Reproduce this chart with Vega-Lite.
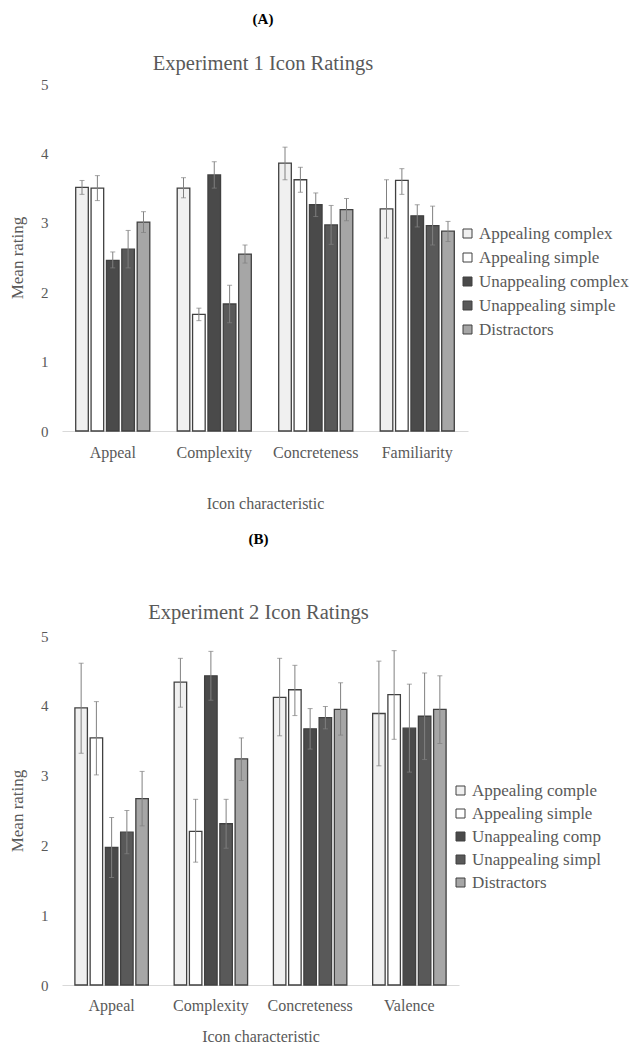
{
  "$schema": "https://vega.github.io/schema/vega-lite/v6.json",
  "padding": {"left": 8, "top": 11, "right": 0, "bottom": 0},
  "background": "white",
  "config": {
    "font": "Liberation Serif",
    "view": {"stroke": null},
    "axis": {"labelFont": "Liberation Serif", "titleFont": "Liberation Serif", "labelColor": "#595959", "titleColor": "#595959", "titleFontWeight": "normal", "grid": false, "ticks": false},
    "axisY": {"domain": false, "labelFontSize": 15, "titleFontSize": 17, "format": "d"},
    "axisX": {"domain": true, "domainColor": "#d9d9d9", "domainWidth": 1, "labelAngle": 0, "labelFontSize": 16, "titleFontSize": 16},
    "legend": {"title": null, "symbolType": "square", "symbolSize": 81, "symbolStrokeColor": "#404040", "symbolStrokeWidth": 1, "labelFontSize": 17, "labelColor": "#595959", "labelFont": "Liberation Serif", "labelOffset": 3, "labelLimit": 300}
  },
  "datasets": {
    "exp1": [
      {"characteristic": "Appeal", "group": "Appealing complex", "mean": 3.51, "lo": 3.41, "hi": 3.61},
      {"characteristic": "Appeal", "group": "Appealing simple", "mean": 3.50, "lo": 3.32, "hi": 3.68},
      {"characteristic": "Appeal", "group": "Unappealing complex", "mean": 2.46, "lo": 2.35, "hi": 2.58},
      {"characteristic": "Appeal", "group": "Unappealing simple", "mean": 2.62, "lo": 2.35, "hi": 2.89},
      {"characteristic": "Appeal", "group": "Distractors", "mean": 3.01, "lo": 2.86, "hi": 3.16},
      {"characteristic": "Complexity", "group": "Appealing complex", "mean": 3.50, "lo": 3.36, "hi": 3.65},
      {"characteristic": "Complexity", "group": "Appealing simple", "mean": 1.68, "lo": 1.59, "hi": 1.77},
      {"characteristic": "Complexity", "group": "Unappealing complex", "mean": 3.69, "lo": 3.50, "hi": 3.88},
      {"characteristic": "Complexity", "group": "Unappealing simple", "mean": 1.83, "lo": 1.56, "hi": 2.10},
      {"characteristic": "Complexity", "group": "Distractors", "mean": 2.55, "lo": 2.42, "hi": 2.68},
      {"characteristic": "Concreteness", "group": "Appealing complex", "mean": 3.86, "lo": 3.62, "hi": 4.09},
      {"characteristic": "Concreteness", "group": "Appealing simple", "mean": 3.62, "lo": 3.44, "hi": 3.80},
      {"characteristic": "Concreteness", "group": "Unappealing complex", "mean": 3.26, "lo": 3.09, "hi": 3.43},
      {"characteristic": "Concreteness", "group": "Unappealing simple", "mean": 2.97, "lo": 2.69, "hi": 3.25},
      {"characteristic": "Concreteness", "group": "Distractors", "mean": 3.19, "lo": 3.03, "hi": 3.35},
      {"characteristic": "Familiarity", "group": "Appealing complex", "mean": 3.20, "lo": 2.78, "hi": 3.62},
      {"characteristic": "Familiarity", "group": "Appealing simple", "mean": 3.61, "lo": 3.41, "hi": 3.78},
      {"characteristic": "Familiarity", "group": "Unappealing complex", "mean": 3.10, "lo": 2.94, "hi": 3.26},
      {"characteristic": "Familiarity", "group": "Unappealing simple", "mean": 2.96, "lo": 2.68, "hi": 3.24},
      {"characteristic": "Familiarity", "group": "Distractors", "mean": 2.88, "lo": 2.73, "hi": 3.02}
    ],
    "exp2": [
      {"characteristic": "Appeal", "group": "Appealing complex", "mean": 3.97, "lo": 3.32, "hi": 4.61},
      {"characteristic": "Appeal", "group": "Appealing simple", "mean": 3.54, "lo": 3.01, "hi": 4.06},
      {"characteristic": "Appeal", "group": "Unappealing complex", "mean": 1.97, "lo": 1.54, "hi": 2.40},
      {"characteristic": "Appeal", "group": "Unappealing simple", "mean": 2.19, "lo": 1.88, "hi": 2.50},
      {"characteristic": "Appeal", "group": "Distractors", "mean": 2.67, "lo": 2.28, "hi": 3.06},
      {"characteristic": "Complexity", "group": "Appealing complex", "mean": 4.34, "lo": 3.98, "hi": 4.68},
      {"characteristic": "Complexity", "group": "Appealing simple", "mean": 2.20, "lo": 1.76, "hi": 2.66},
      {"characteristic": "Complexity", "group": "Unappealing complex", "mean": 4.43, "lo": 4.08, "hi": 4.78},
      {"characteristic": "Complexity", "group": "Unappealing simple", "mean": 2.31, "lo": 1.96, "hi": 2.66},
      {"characteristic": "Complexity", "group": "Distractors", "mean": 3.24, "lo": 2.93, "hi": 3.54},
      {"characteristic": "Concreteness", "group": "Appealing complex", "mean": 4.12, "lo": 3.57, "hi": 4.68},
      {"characteristic": "Concreteness", "group": "Appealing simple", "mean": 4.23, "lo": 3.86, "hi": 4.58},
      {"characteristic": "Concreteness", "group": "Unappealing complex", "mean": 3.67, "lo": 3.38, "hi": 3.96},
      {"characteristic": "Concreteness", "group": "Unappealing simple", "mean": 3.83, "lo": 3.67, "hi": 3.99},
      {"characteristic": "Concreteness", "group": "Distractors", "mean": 3.95, "lo": 3.58, "hi": 4.33},
      {"characteristic": "Valence", "group": "Appealing complex", "mean": 3.89, "lo": 3.14, "hi": 4.64},
      {"characteristic": "Valence", "group": "Appealing simple", "mean": 4.16, "lo": 3.52, "hi": 4.79},
      {"characteristic": "Valence", "group": "Unappealing complex", "mean": 3.68, "lo": 3.05, "hi": 4.31},
      {"characteristic": "Valence", "group": "Unappealing simple", "mean": 3.85, "lo": 3.23, "hi": 4.47},
      {"characteristic": "Valence", "group": "Distractors", "mean": 3.95, "lo": 3.46, "hi": 4.43}
    ]
  },
  "resolve": {"scale": {"x": "independent", "y": "independent", "fill": "independent", "xOffset": "independent"}, "legend": {"fill": "independent"}},
  "spacing": 20,
  "vconcat": [
    {
      "title": {"text": "(A)", "subtitle": "Experiment 1 Icon Ratings", "font": "Liberation Serif", "fontSize": 15, "fontWeight": "bold", "color": "#000000", "subtitleFont": "Liberation Serif", "subtitleFontSize": 20.5, "subtitleColor": "#595959", "subtitlePadding": 27, "offset": 3, "anchor": "middle", "frame": "group", "dx": -2},
      "width": 406,
      "height": 347,
      "data": {"name": "exp1"},
      "encoding": {
        "x": {"field": "characteristic", "type": "nominal", "sort": ["Appeal", "Complexity", "Concreteness", "Familiarity"], "scale": {"paddingInner": 0.27, "paddingOuter": 0.135}, "axis": {"title": "Icon characteristic", "labelPadding": 13, "titlePadding": 35}},
        "xOffset": {"field": "group", "type": "nominal", "sort": ["Appealing complex", "Appealing simple", "Unappealing complex", "Unappealing simple", "Distractors"], "scale": {"paddingInner": 0.18}}
      },
      "layer": [
        {
          "mark": {"type": "bar", "stroke": "#404040", "strokeWidth": 1.3},
          "encoding": {
            "y": {"field": "mean", "type": "quantitative", "scale": {"domain": [0, 5]}, "axis": {"values": [0, 1, 2, 3, 4, 5], "title": "Mean rating", "labelPadding": 14, "titlePadding": 14}},
            "fill": {"field": "group", "type": "nominal", "sort": ["Appealing complex", "Appealing simple", "Unappealing complex", "Unappealing simple", "Distractors"], "scale": {"domain": ["Appealing complex", "Appealing simple", "Unappealing complex", "Unappealing simple", "Distractors"], "range": ["#f0f0f0", "#ffffff", "#4a4a4a", "#595959", "#a6a6a6"]}, "legend": {"orient": "none", "legendX": 397, "legendY": 141, "rowPadding": 6}}
          }
        },
        {
          "mark": {"type": "rule", "color": "#808080", "strokeWidth": 1},
          "encoding": {"y": {"field": "lo", "type": "quantitative"}, "y2": {"field": "hi"}}
        },
        {
          "mark": {"type": "tick", "color": "#808080", "size": 5, "thickness": 1},
          "encoding": {"y": {"field": "lo", "type": "quantitative"}}
        },
        {
          "mark": {"type": "tick", "color": "#808080", "size": 5, "thickness": 1},
          "encoding": {"y": {"field": "hi", "type": "quantitative"}}
        }
      ]
    },
    {
      "title": {"text": "(B)", "subtitle": "Experiment 2 Icon Ratings", "font": "Liberation Serif", "fontSize": 15, "fontWeight": "bold", "color": "#000000", "subtitleFont": "Liberation Serif", "subtitleFontSize": 20.5, "subtitleColor": "#595959", "subtitlePadding": 56, "offset": 6, "anchor": "middle", "frame": "group", "dx": -2},
      "width": 397,
      "height": 349,
      "data": {"name": "exp2"},
      "encoding": {
        "x": {"field": "characteristic", "type": "nominal", "sort": ["Appeal", "Complexity", "Concreteness", "Valence"], "scale": {"paddingInner": 0.26, "paddingOuter": 0.13}, "axis": {"title": "Icon characteristic", "labelPadding": 12, "titlePadding": 15}},
        "xOffset": {"field": "group", "type": "nominal", "sort": ["Appealing complex", "Appealing simple", "Unappealing complex", "Unappealing simple", "Distractors"], "scale": {"paddingInner": 0.18}}
      },
      "layer": [
        {
          "mark": {"type": "bar", "stroke": "#404040", "strokeWidth": 1.3},
          "encoding": {
            "y": {"field": "mean", "type": "quantitative", "scale": {"domain": [0, 5]}, "axis": {"values": [0, 1, 2, 3, 4, 5], "title": "Mean rating", "labelPadding": 14, "titlePadding": 14}},
            "fill": {"field": "group", "type": "nominal", "sort": ["Appealing complex", "Appealing simple", "Unappealing complex", "Unappealing simple", "Distractors"], "scale": {"domain": ["Appealing complex", "Appealing simple", "Unappealing complex", "Unappealing simple", "Distractors"], "range": ["#f0f0f0", "#ffffff", "#4a4a4a", "#595959", "#a6a6a6"]}, "legend": {"orient": "none", "legendX": 390, "legendY": 146, "rowPadding": 5, "labelExpr": "datum.label == 'Appealing complex' ? 'Appealing comple' : datum.label == 'Unappealing complex' ? 'Unappealing comp' : datum.label == 'Unappealing simple' ? 'Unappealing simpl' : datum.label"}}
          }
        },
        {
          "mark": {"type": "rule", "color": "#808080", "strokeWidth": 1},
          "encoding": {"y": {"field": "lo", "type": "quantitative"}, "y2": {"field": "hi"}}
        },
        {
          "mark": {"type": "tick", "color": "#808080", "size": 5, "thickness": 1},
          "encoding": {"y": {"field": "lo", "type": "quantitative"}}
        },
        {
          "mark": {"type": "tick", "color": "#808080", "size": 5, "thickness": 1},
          "encoding": {"y": {"field": "hi", "type": "quantitative"}}
        }
      ]
    }
  ]
}
